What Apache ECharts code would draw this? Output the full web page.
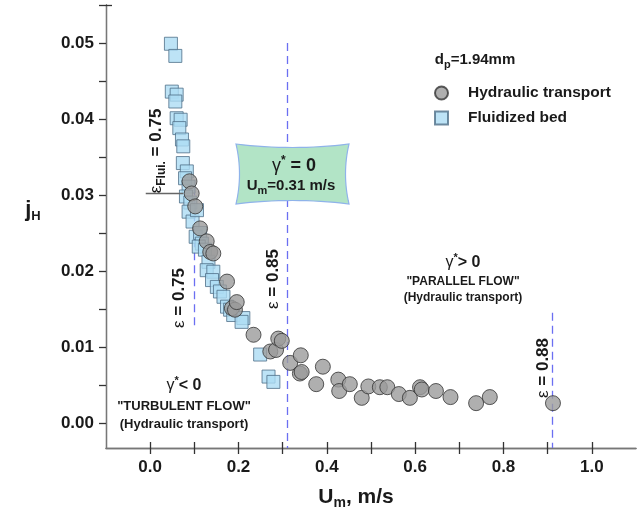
<!DOCTYPE html>
<html><head><meta charset="utf-8">
<script src="https://cdn.jsdelivr.net/npm/echarts@6/dist/echarts.min.js"></script>
<style>html,body{margin:0;padding:0;background:#fff}#c{width:643px;height:515px}</style>
</head><body><div id="c"></div>
<script>
// ---- data ----
const hydraulicU = [0.089,0.094,0.102,0.113,0.128,0.136,0.143,0.174,0.185,0.192,0.196,0.234,0.272,0.285,0.290,0.298,0.317,0.341,0.339,0.343,0.376,0.391,0.426,0.428,0.452,0.479,0.494,0.520,0.537,0.563,0.588,0.611,0.615,0.647,0.680,0.738,0.769,0.912];
const hydraulicJ = [0.0318,0.0302,0.0285,0.0256,0.0239,0.0225,0.0223,0.0186,0.0151,0.0149,0.0159,0.0116,0.0094,0.0096,0.0111,0.0108,0.0079,0.0089,0.0065,0.0067,0.0051,0.0074,0.0057,0.0042,0.0051,0.0033,0.0048,0.0047,0.0047,0.0038,0.0033,0.0047,0.0044,0.0042,0.0034,0.0026,0.0034,0.0026];
const fluidU = [0.047,0.057,0.049,0.060,0.057,0.060,0.069,0.066,0.072,0.075,0.074,0.083,0.079,0.087,0.081,0.091,0.087,0.096,0.106,0.103,0.113,0.117,0.110,0.124,0.132,0.128,0.143,0.140,0.151,0.158,0.166,0.174,0.181,0.188,0.211,0.207,0.249,0.268,0.279];
const fluidJ = [0.0499,0.0483,0.0436,0.0432,0.0423,0.0401,0.0399,0.0388,0.0373,0.0364,0.0342,0.0331,0.0322,0.0311,0.0298,0.0290,0.0278,0.0265,0.0280,0.0245,0.0250,0.0236,0.0232,0.0228,0.0212,0.0201,0.0199,0.0188,0.0179,0.0173,0.0166,0.0153,0.0149,0.0142,0.0138,0.0133,0.0090,0.0061,0.0054];
const xLabelTicks = [0,0.2,0.4,0.6,0.8,1.0];
const xTicks = [0,0.1,0.2,0.3,0.4,0.5,0.6,0.7,0.8,0.9,1.0];
const yLabelTicks = [0,0.01,0.02,0.03,0.04,0.05];
const yTicks = [0,0.005,0.01,0.015,0.02,0.025,0.03,0.035,0.04,0.045,0.05,0.055];
// vertical dashed lines: [u, jFrom, jTo]
const dashedU = [0.10, 0.31, 0.91];
const dashedFrom = [0.0310, 0.0500, 0.0145];
const dashedTo = [0.0122, -0.0033, -0.0033];
// short horizontal marker line at eps_Flui
const hLineU = [-0.01, 0.075];
const hLineJ = 0.0302;

const F = '"Liberation Sans", Arial, sans-serif';
const chart = echarts.init(document.getElementById('c'));

const toPairs = (a,b) => a.map((v,i)=>[v,b[i]]);
const dashedData = dashedU.map((u,i)=>[{coord:[u,dashedFrom[i]]},{coord:[u,dashedTo[i]]}]);

const axisCommon = {
  axisLine:{show:true,onZero:false,lineStyle:{color:'#777',width:1.3}},
  splitLine:{show:false}
};

const txt = (x,y,text,rich,extra) => Object.assign({type:'text',x:x,y:y,style:{text:text,rich:rich,fill:'#1a1a1a',font:'bold 14px '+F,align:'center',verticalAlign:'middle'}},extra||{});

const epsRich = {
  e:{fontFamily:F,fontSize:17,fontWeight:'normal',fill:'#1a1a1a'},
  s:{fontFamily:F,fontSize:12,fontWeight:'bold',padding:[11,0,0,0],fill:'#1a1a1a'},
  b:{fontFamily:F,fontSize:17,fontWeight:'bold',fill:'#1a1a1a'}
};
const gRich = {
  g:{fontFamily:F,fontSize:16,fill:'#1a1a1a'},
  a:{fontFamily:F,fontSize:11,fontWeight:'bold',padding:[0,0,10,0],fill:'#1a1a1a'},
  b:{fontFamily:F,fontSize:16,fontWeight:'bold',fill:'#1a1a1a'},
  m:{fontFamily:F,fontSize:15,fontWeight:'bold',fill:'#1a1a1a'},
  s:{fontFamily:F,fontSize:11,fontWeight:'bold',padding:[10,0,0,0],fill:'#1a1a1a'}
};
const boxRich = {
  g:{fontFamily:F,fontSize:18,fill:'#1a1a1a'},
  a:{fontFamily:F,fontSize:12,fontWeight:'bold',padding:[0,0,11,0],fill:'#1a1a1a'},
  b:{fontFamily:F,fontSize:18,fontWeight:'bold',fill:'#1a1a1a'}
};
const qRich = {q:{fontFamily:F,fontSize:13,fontWeight:'bold',fill:'#1a1a1a'}};
const q2Rich = {q:{fontFamily:F,fontSize:12,fontWeight:'bold',fill:'#1a1a1a'}};

// concave "pillow" shape for the annotation box
function pillow(w,h,d){
  const pts=[]; const N=16;
  const q=(p0,p1,p2,t)=>[(1-t)*(1-t)*p0[0]+2*(1-t)*t*p1[0]+t*t*p2[0],(1-t)*(1-t)*p0[1]+2*(1-t)*t*p1[1]+t*t*p2[1]];
  const segs=[[[0,0],[w/2,d],[w,0]],[[w,0],[w-d,h/2],[w,h]],[[w,h],[w/2,h-d],[0,h]],[[0,h],[d,h/2],[0,0]]];
  segs.forEach(s=>{for(let i=0;i<N;i++)pts.push(q(s[0],s[1],s[2],i/N));});
  return pts;
}

chart.setOption({
  animation:false,
  backgroundColor:'#fff',
  grid:{left:106,right:7,top:5,bottom:67},
  xAxis:[
    Object.assign({type:'value',min:-0.1,max:1.1,position:'bottom',
      axisTick:{show:true,inside:false,length:6,customValues:xTicks,lineStyle:{color:'#333',width:1.3}},
      axisLabel:{customValues:xLabelTicks,margin:11,color:'#1a1a1a',fontFamily:F,fontSize:17,fontWeight:'bold',formatter:v=>v.toFixed(1)}},axisCommon),
    Object.assign({type:'value',min:-0.1,max:1.1,position:'bottom',
      axisTick:{show:true,inside:true,length:6,customValues:xTicks,lineStyle:{color:'#333',width:1.3}},
      axisLabel:{show:false}},axisCommon)
  ],
  yAxis:[
    Object.assign({type:'value',min:-0.0033,max:0.055,position:'left',
      axisTick:{show:true,inside:false,length:7,customValues:yTicks,lineStyle:{color:'#333',width:1.3}},
      axisLabel:{customValues:yLabelTicks,margin:12,color:'#1a1a1a',fontFamily:F,fontSize:17,fontWeight:'bold',formatter:v=>v.toFixed(2)}},axisCommon),
    Object.assign({type:'value',min:-0.0033,max:0.055,position:'left',
      axisTick:{show:true,inside:true,length:6,customValues:[0.055],lineStyle:{color:'#333',width:1.3}},
      axisLabel:{show:false}},axisCommon)
  ],
  legend:{
    orient:'vertical',left:429,top:80,itemWidth:13,itemHeight:13,itemGap:9,
    data:['Hydraulic transport','Fluidized bed'],
    textStyle:{fontFamily:F,fontSize:15.5,fontWeight:'bold',color:'#1a1a1a',padding:[0,0,0,15]}
  },
  series:[
    {name:'Fluidized bed',type:'scatter',symbol:'rect',symbolSize:13,z:2,
     itemStyle:{color:'#acdcf4',borderColor:'#4f6f88',borderWidth:1},
     data:toPairs(fluidU,fluidJ),
     markLine:{silent:true,symbol:'none',label:{show:false},
       lineStyle:{color:'#666',type:'solid',width:1.3},
       data:[[{coord:[hLineU[0],hLineJ]},{coord:[hLineU[1],hLineJ]}]]}},
    {name:'Hydraulic transport',type:'scatter',symbol:'circle',symbolSize:15,z:3,
     itemStyle:{color:'#9b9b9b',borderColor:'#333',borderWidth:1},
     data:toPairs(hydraulicU,hydraulicJ),
     markLine:{silent:true,symbol:'none',label:{show:false},z:1,
       lineStyle:{color:'#6b6ff2',type:[8,5],width:1.3},
       data:dashedData}}
  ],
  graphic:[
    {type:'polygon',x:236,y:144,z:5,shape:{points:pillow(113,60,7)},
     style:{fill:'#b2e4c6',stroke:'#8fb3ea',lineWidth:1.2}},
    txt(294,166,'{g|γ}{a|*}{b| = 0}',boxRich,{z:6}),
    txt(291,186,'{m|U}{s|m}{m|=0.31 m/s}',gRich,{z:6}),
    txt(156,151,'{e|ε}{s|Flui.}{b| = 0.75}',epsRich,{rotation:Math.PI/2,z:6}),
    txt(179,298,'{e|ε}{b| = 0.75}',epsRich,{rotation:Math.PI/2,z:6}),
    txt(273,279,'{e|ε}{b| = 0.85}',epsRich,{rotation:Math.PI/2,z:6}),
    txt(543,368,'{e|ε}{b| = 0.88}',epsRich,{rotation:Math.PI/2,z:6}),
    txt(463,263,'{g|γ}{a|*}{b|> 0}',gRich,{z:6}),
    txt(463,282,'{q|"PARALLEL FLOW"}',q2Rich,{z:6}),
    txt(463,298,'{q|(Hydraulic transport)}',q2Rich,{z:6}),
    txt(184,386,'{g|γ}{a|*}{b|< 0}',gRich,{z:6}),
    txt(184,406,'{q|"TURBULENT FLOW"}',qRich,{z:6}),
    txt(184,424,'{q|(Hydraulic transport)}',qRich,{z:6}),
    txt(475,60,'{m|d}{s|p}{m|=1.94mm}',gRich,{z:6}),
    txt(33,210,'{j|j}{h|H}',{j:{fontFamily:F,fontSize:22,fontWeight:'bold',fill:'#1a1a1a'},h:{fontFamily:F,fontSize:13,fontWeight:'bold',padding:[12,0,0,0],fill:'#1a1a1a'}},{z:6}),
    txt(356,497,'{u|U}{s|m}{u|, m/s}',{u:{fontFamily:F,fontSize:21,fontWeight:'bold',fill:'#1a1a1a'},s:{fontFamily:F,fontSize:14,fontWeight:'bold',padding:[12,0,0,0],fill:'#1a1a1a'}},{z:6})
  ]
});
</script></body></html>
